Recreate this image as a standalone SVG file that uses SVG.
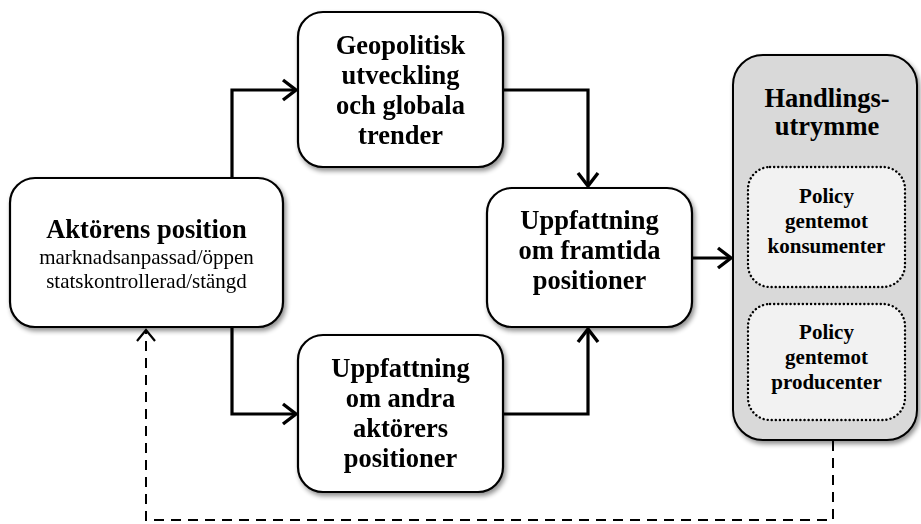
<svg xmlns="http://www.w3.org/2000/svg" width="921" height="524" viewBox="0 0 921 524">
  <defs>
    <style>
      .box { fill: #ffffff; stroke: #000000; stroke-width: 2.2; }
      .outer { fill: #d9d9d9; stroke: #000000; stroke-width: 2; }
      .inner { fill: #f2f2f2; stroke: #000000; stroke-width: 2.4; stroke-dasharray: 0.1 4; stroke-linecap: round; }
      .t { font-family: "Liberation Serif", "Times New Roman", serif; text-anchor: middle; fill: #000000; }
      .b26 { font-size: 26.5px; font-weight: bold; }
      .b21 { font-size: 21px; font-weight: bold; }
      .r21 { font-size: 21px; }
      .conn { fill: none; stroke: #000000; stroke-width: 3.2; }
      .dash { fill: none; stroke: #000000; stroke-width: 2; stroke-dasharray: 10 7; }
    </style>
    <marker id="arrow" markerUnits="userSpaceOnUse" markerWidth="20" markerHeight="24" viewBox="-16 -12 20 24" refX="0" refY="0" orient="auto">
      <path d="M-13,-10 L0,0 L-13,10" fill="none" stroke="#000000" stroke-width="3.4"/>
    </marker>
    <marker id="arrowThin" markerUnits="userSpaceOnUse" markerWidth="20" markerHeight="24" viewBox="-16 -12 20 24" refX="0" refY="0" orient="auto">
      <path d="M-11,-9 L0,0 L-11,9" fill="none" stroke="#000000" stroke-width="2.2"/>
    </marker>
    <filter id="shadow" x="-10%" y="-10%" width="125%" height="125%">
      <feGaussianBlur in="SourceAlpha" stdDeviation="2.5"/>
      <feOffset dx="2" dy="3" result="blur"/>
      <feComponentTransfer><feFuncA type="linear" slope="0.45"/></feComponentTransfer>
      <feMerge><feMergeNode/><feMergeNode in="SourceGraphic"/></feMerge>
    </filter>
  </defs>

  <rect width="921" height="524" fill="#ffffff"/>

  <!-- connectors -->
  <g id="connectors">
    <path class="conn" d="M232,178 V90 H296" marker-end="url(#arrow)"/>
    <path class="conn" d="M232,327 V414 H296" marker-end="url(#arrow)"/>
    <path class="conn" d="M503,90 H588 V186" marker-end="url(#arrow)"/>
    <path class="conn" d="M503,414 H588 V329" marker-end="url(#arrow)"/>
    <path class="conn" d="M692,258 H731" marker-end="url(#arrow)"/>
    <path class="dash" d="M833,441 V520 H146 V330" marker-end="url(#arrowThin)"/>
  </g>

  <g id="aktorens-position" filter="url(#shadow)">
    <rect class="box" x="10" y="178" width="273" height="149" rx="25"/>
    <text class="t b26" x="146.5" y="238">Aktörens position</text>
    <text class="t r21" x="146.5" y="264">marknadsanpassad/öppen</text>
    <text class="t r21" x="146.5" y="288">statskontrollerad/stängd</text>
  </g>

  <g id="geopolitisk-utveckling" filter="url(#shadow)">
    <rect class="box" x="298" y="12" width="205" height="155" rx="25"/>
    <text class="t b26" x="400.5" y="54">Geopolitisk</text>
    <text class="t b26" x="400.5" y="84">utveckling</text>
    <text class="t b26" x="400.5" y="114">och globala</text>
    <text class="t b26" x="400.5" y="144">trender</text>
  </g>

  <g id="uppfattning-andra" filter="url(#shadow)">
    <rect class="box" x="298" y="335" width="205" height="157" rx="25"/>
    <text class="t b26" x="400.5" y="377">Uppfattning</text>
    <text class="t b26" x="400.5" y="407">om andra</text>
    <text class="t b26" x="400.5" y="437">aktörers</text>
    <text class="t b26" x="400.5" y="467">positioner</text>
  </g>

  <g id="uppfattning-framtida" filter="url(#shadow)">
    <rect class="box" x="487" y="188" width="205" height="139" rx="25"/>
    <text class="t b26" x="589.5" y="229">Uppfattning</text>
    <text class="t b26" x="589.5" y="259">om framtida</text>
    <text class="t b26" x="589.5" y="289">positioner</text>
  </g>

  <g id="handlingsutrymme">
    <rect class="outer" x="733" y="55" width="184" height="385" rx="30" filter="url(#shadow)"/>
    <text class="t b26" x="827" y="107">Handlings-</text>
    <text class="t b26" x="827" y="135">utrymme</text>
    <g id="policy-konsumenter">
      <rect class="inner" x="748" y="167" width="157" height="120" rx="22"/>
      <text class="t b21" x="826.5" y="203">Policy</text>
      <text class="t b21" x="826.5" y="228">gentemot</text>
      <text class="t b21" x="826.5" y="253">konsumenter</text>
    </g>
    <g id="policy-producenter">
      <rect class="inner" x="748" y="304" width="157" height="116" rx="22"/>
      <text class="t b21" x="826.5" y="339">Policy</text>
      <text class="t b21" x="826.5" y="364">gentemot</text>
      <text class="t b21" x="826.5" y="389">producenter</text>
    </g>
  </g>
</svg>
